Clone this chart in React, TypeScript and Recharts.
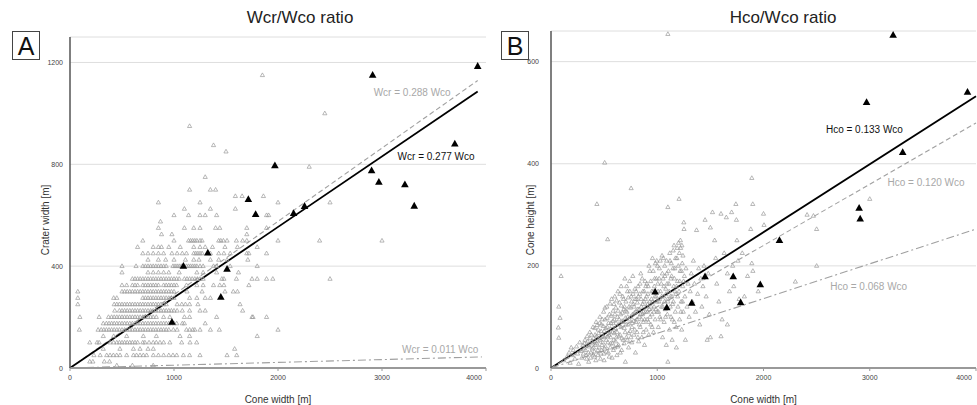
import React from "react";
import {
  ScatterChart,
  Scatter,
  XAxis,
  YAxis,
  CartesianGrid,
  ReferenceLine,
  ReferenceDot,
} from "recharts";

const coneWidthTicks = [0, 1000, 2000, 3000, 4000];
const craterTicks = [0, 400, 800, 1200];
const heightTicks = [0, 200, 400, 600];

// studied cones (black markers)
const keyConeWidth = [980, 1090, 1325, 1450, 1510, 1715, 1785, 1970, 2150, 2255, 2900, 2910, 2970, 3220, 3310, 3700, 3920];
const keyCraterWidth = [180, 400, 452, 278, 388, 662, 603, 795, 607, 635, 775, 1150, 730, 720, 636, 880, 1185];
const keyConeHeight = [149, 118, 127, 179, null, 179, 128, 163, 250, null, 313, 292, 520, 652, 422, null, 540];

// field data for crater width, grouped by crater width level (m)
const fieldCraterLevels = [1150, 1000, 950, 875, 850, 790, 750, 700, 675, 650, 625, 600, 575, 550, 525, 500, 475, 450, 425, 400, 375, 350, 325, 300, 275, 250, 225, 200, 175, 150, 125, 100, 75, 50, 25, 10];
const fieldConeWidthsByLevel: number[][] = [
  [1850],
  [2450],
  [1150],
  [1380],
  [1500],
  [2300],
  [1300],
  [1150, 1350, 1400],
  [1590, 1655, 1860],
  [850, 1250, 2000, 2500],
  [1100, 1350, 1590],
  [1000, 1140, 1250, 1300, 1410, 1890, 1910],
  [870],
  [850, 1100, 1190, 1250, 1400, 1440, 1700, 1890],
  [880, 980, 1700],
  [700, 1000, 1140, 1160, 1180, 1200, 1220, 1250, 1270, 1430, 1450, 1475, 1510, 1600, 1660, 1700, 2000, 2400, 3000],
  [650, 800, 850, 880, 950, 1060, 1190, 1250, 1300, 1370, 1490, 1610, 1800],
  [700, 750, 800, 850, 900, 980, 1030, 1080, 1120, 1190, 1210, 1230, 1250, 1270, 1350, 1430, 1480, 1540, 1700, 1720, 1890],
  [750, 850, 920, 1000, 1110, 1190, 1240, 1350, 1430, 1510, 1710],
  [500, 635, 700, 725, 750, 775, 800, 825, 850, 875, 900, 925, 990, 1010, 1030, 1050, 1070, 1100, 1120, 1140, 1160, 1180, 1200, 1220, 1250, 1280, 1380, 1410, 1540, 1800],
  [500, 750, 800, 850, 900, 950, 1050, 1220, 1280, 1410, 1620],
  [600, 625, 650, 675, 700, 725, 750, 775, 800, 825, 850, 875, 900, 925, 950, 975, 1000, 1025, 1050, 1100, 1125, 1150, 1175, 1200, 1225, 1250, 1280, 1460, 1480, 1600, 1750, 1800, 1890, 1950, 2500],
  [500, 545, 600, 625, 650, 700, 725, 750, 775, 800, 825, 850, 900, 925, 950, 975, 1000, 1025, 1120, 1220, 1280, 1380, 1440, 1480, 1720],
  [75, 500, 525, 550, 575, 600, 625, 650, 675, 700, 725, 750, 775, 800, 825, 850, 875, 900, 925, 950, 975, 1000, 1125, 1270, 1490, 1570, 1610],
  [75, 420, 450, 700, 725, 750, 775, 800, 825, 850, 875, 900, 925, 950, 975, 1000, 1150, 1220, 1300, 1350],
  [75, 425, 450, 475, 500, 525, 550, 575, 600, 625, 650, 675, 700, 725, 750, 775, 800, 825, 850, 875, 900, 925, 1030, 1075, 1110, 1150, 1230, 1635],
  [430, 475, 500, 525, 550, 575, 600, 625, 650, 675, 700, 725, 750, 775, 800, 825, 850, 875, 900, 925, 950, 975, 1000, 1030, 1080, 1150, 1250, 1300, 1660],
  [95, 280, 370, 400, 425, 450, 475, 500, 525, 550, 575, 600, 625, 650, 675, 700, 725, 750, 775, 800, 830, 900, 960, 1100, 1150, 1410, 1750, 1760, 1890],
  [320, 350, 375, 400, 425, 450, 475, 500, 525, 550, 575, 600, 625, 650, 675, 700, 725, 750, 775, 800, 825, 850, 875, 900, 925, 950, 975, 1000, 1026, 1080, 1100, 1300],
  [90, 270, 300, 325, 350, 375, 400, 425, 450, 475, 500, 525, 550, 575, 600, 625, 650, 675, 700, 725, 750, 775, 800, 825, 850, 875, 900, 925, 950, 994, 1030, 1120, 1150, 1180, 1200, 1250, 1350, 1436, 2000],
  [320, 420, 545, 705, 830, 1058, 1150, 1800],
  [190, 260, 280, 385, 420, 450, 475, 500, 525, 550, 575, 600, 625, 650, 700, 720, 760, 800, 830, 865, 900, 960, 1074, 1154, 1218],
  [320, 480, 610, 673, 750, 801, 1583],
  [230, 290, 353, 385, 417, 449, 481, 545, 610, 640, 673, 705, 737, 801, 850, 900, 950, 990, 1026, 1090, 1150, 1250, 1510, 1603],
  [190, 220, 330, 380],
  [450, 600, 800],
];

// field data for cone height: [cone width, cone height]
const fieldHeights: [number, number][] = [
  [73, 120], [85, 98], [69, 79], [73, 59], [95, 180],
  [120, 15], [150, 22], [170, 30], [180, 10], [190, 40], [200, 25],
  [210, 35], [225, 18], [240, 42], [250, 28], [260, 8], [270, 50], [280, 33], [290, 20], [300, 45],
  [310, 38], [320, 55], [330, 25], [340, 62], [350, 45], [355, 12], [365, 70], [375, 30], [385, 52], [395, 80], [400, 40],
  [410, 22], [415, 65], [425, 90], [430, 48], [440, 35], [445, 75], [455, 58], [460, 100], [470, 28], [475, 85], [480, 45], [490, 62], [495, 110], [500, 15], [500, 72],
  [505, 38], [510, 95], [520, 55], [525, 120], [530, 80], [540, 30], [545, 65], [550, 105], [560, 48], [565, 88], [570, 135], [575, 20], [580, 70], [585, 112], [590, 55], [595, 95], [600, 40], [600, 140],
  [605, 78], [610, 118], [615, 60], [620, 25], [625, 100], [630, 150], [635, 45], [640, 85], [645, 128], [650, 65], [655, 105], [660, 160], [665, 35], [670, 92], [675, 140], [680, 55], [685, 115], [690, 78], [695, 175], [700, 12], [700, 98],
  [705, 130], [710, 60], [715, 110], [720, 150], [725, 85], [730, 40], [735, 120], [740, 170], [745, 72], [750, 100], [755, 140], [760, 50], [765, 88], [770, 180], [775, 125], [780, 65], [785, 108], [790, 155], [795, 30], [800, 90],
  [805, 135], [810, 70], [815, 115], [820, 160], [825, 52], [830, 100], [835, 145], [840, 80], [845, 185], [850, 120], [855, 60], [860, 105], [865, 150], [870, 90], [875, 130], [880, 45], [885, 170], [890, 110], [895, 75], [900, 140],
  [905, 95], [910, 125], [915, 160], [920, 65], [925, 115], [930, 190], [940, 85], [945, 135], [950, 105], [955, 215], [960, 150], [965, 70], [970, 120], [975, 175], [980, 95], [990, 140], [995, 210], [1000, 110],
  [1005, 165], [1010, 80], [1015, 130], [1020, 195], [1025, 100], [1030, 150], [1040, 120], [1045, 220], [1050, 60], [1055, 175], [1060, 140], [1065, 90], [1070, 200], [1075, 115], [1080, 155], [1085, 45], [1090, 185], [1095, 105], [1100, 315], [1100, 130], [1100, 12], [1100, 654],
  [1110, 165], [1115, 75], [1120, 210], [1125, 140], [1130, 100], [1135, 180], [1140, 55], [1145, 125], [1150, 230], [1155, 160], [1160, 90], [1165, 195], [1170, 110], [1175, 145], [1180, 40], [1185, 215], [1190, 170], [1195, 120], [1200, 245], [1205, 331],
  [1205, 150], [1210, 95], [1215, 190], [1220, 235], [1225, 130], [1230, 75], [1235, 205], [1240, 160], [1245, 110], [1250, 285], [1252, 272], [1255, 180], [1260, 140], [1265, 55], [1270, 195], [1280, 120], [1290, 165], [1300, 100],
  [1310, 150], [1320, 185], [1330, 130], [1340, 210], [1350, 165], [1360, 110], [1370, 270], [1380, 145], [1390, 195], [1400, 85], [1410, 175], [1420, 120], [1430, 160], [1440, 200], [1450, 290], [1460, 140], [1470, 55], [1480, 185], [1490, 105], [1500, 275], [1500, 60],
  [1520, 305], [1540, 250], [1550, 215], [1560, 165], [1580, 130], [1600, 302], [1600, 62], [1610, 95], [1630, 225], [1650, 295], [1660, 85], [1660, 185], [1680, 150], [1700, 305], [1710, 200], [1720, 160], [1740, 321], [1745, 290], [1750, 250], [1760, 210], [1770, 135], [1800, 225], [1820, 140], [1850, 180], [1880, 272], [1890, 372], [1890, 205], [1899, 321], [1900, 190], [1950, 150], [2000, 302], [2005, 280],
  [2300, 169], [2410, 300], [2470, 298], [2500, 272], [2500, 200], [3000, 331],
  [432, 321], [505, 402], [533, 252], [754, 352],
  // dense core of the cloud
  [305, 28], [315, 48], [325, 35], [335, 18], [345, 52], [352, 30], [360, 42], [368, 58], [372, 20], [380, 65], [388, 38], [392, 48], [398, 26],
  [402, 58], [408, 32], [412, 78], [418, 45], [422, 15], [428, 62], [434, 84], [438, 52], [442, 25], [448, 68], [452, 40], [458, 88], [462, 55], [466, 18], [472, 72], [478, 35], [482, 95], [486, 50], [492, 82], [498, 28],
  [502, 60], [508, 118], [512, 42], [516, 78], [522, 32], [528, 98], [532, 62], [536, 50], [542, 88], [548, 22], [552, 72], [556, 126], [558, 40], [562, 60], [568, 102], [572, 82], [578, 48], [582, 92], [588, 35], [592, 125], [596, 68],
  [602, 105], [608, 52], [612, 88], [618, 132], [622, 70], [628, 42], [632, 112], [638, 62], [642, 95], [648, 145], [652, 30], [658, 80], [662, 122], [668, 58], [672, 108], [678, 90], [682, 135], [688, 48], [692, 120], [698, 70],
  [702, 112], [708, 85], [712, 160], [718, 55], [722, 100], [728, 138], [732, 68], [738, 95], [742, 150], [748, 118], [752, 60], [758, 130], [762, 80], [768, 105], [772, 145], [778, 92], [782, 120], [788, 75], [792, 135], [798, 110],
  [802, 150], [808, 95], [812, 128], [818, 60], [822, 140], [828, 115], [832, 85], [838, 165], [842, 105], [848, 135], [852, 95], [858, 175], [862, 125], [868, 70], [872, 110], [878, 150], [882, 95], [888, 135], [892, 160], [898, 120],
  [902, 165], [908, 110], [912, 145], [918, 90], [922, 200], [928, 130], [932, 100], [938, 170], [942, 120], [948, 150], [952, 80], [958, 130], [962, 190], [968, 110], [972, 160], [978, 140], [982, 205], [988, 115], [992, 175], [998, 130],
  [1002, 200], [1008, 150], [1012, 110], [1018, 175], [1022, 135], [1028, 210], [1032, 95], [1038, 165], [1042, 140], [1048, 185], [1052, 120], [1058, 215], [1062, 160], [1068, 130], [1072, 180], [1078, 100], [1082, 145], [1088, 210], [1092, 165], [1098, 135],
  [1105, 190], [1112, 150], [1118, 225], [1122, 120], [1128, 175], [1132, 205], [1138, 140], [1142, 95], [1148, 195], [1152, 130], [1158, 240], [1162, 175], [1168, 150], [1172, 215], [1178, 80], [1182, 160], [1188, 235], [1192, 140], [1198, 200],
  [1208, 225], [1212, 170], [1218, 250], [1222, 110], [1228, 190], [1232, 240], [1238, 130], [1242, 220], [1248, 170],
];

const FONT = "'Liberation Sans', Arial, sans-serif";

const craterField = fieldCraterLevels.flatMap((wcr, i) =>
  fieldConeWidthsByLevel[i].map((wco) => ({ x: wco, y: wcr }))
);
const craterKey = keyConeWidth.map((x, i) => ({ x, y: keyCraterWidth[i] }));
const heightField = fieldHeights.map(([x, y]) => ({ x, y }));
const heightKey = keyConeWidth
  .map((x, i) => ({ x, y: keyConeHeight[i] }))
  .filter((d) => d.y !== null);

function OpenTriangle(props: any) {
  const { cx, cy } = props;
  if (cx == null || cy == null) return <g />;
  return (
    <path
      d={`M${cx},${cy - 2.3}L${cx + 2.1},${cy + 1.4}L${cx - 2.1},${cy + 1.4}Z`}
      fill="none"
      stroke="#9a9a9a"
      strokeWidth={0.7}
    />
  );
}

function SolidTriangle(props: any) {
  const { cx, cy } = props;
  if (cx == null || cy == null) return <g />;
  return <path d={`M${cx},${cy - 4.2}L${cx + 3.8},${cy + 2.6}L${cx - 3.8},${cy + 2.6}Z`} fill="#000" />;
}

// plain grey tick text
function XTick(props: any) {
  const { x, y, payload } = props;
  return (
    <text x={x} y={y} dy={6} textAnchor="middle" fontSize={7} fill="#444">
      {payload.value}
    </text>
  );
}

function YTick(props: any) {
  const { x, y, payload } = props;
  return (
    <text x={x} y={y} dy={2.5} textAnchor="end" fontSize={7} fill="#444">
      {payload.value}
    </text>
  );
}

function SideTitle(props: any) {
  const { text, cx, cy } = props;
  return (
    <text x={cx} y={cy} transform={`rotate(-90 ${cx} ${cy})`} textAnchor="middle" dominantBaseline="central" fontSize={10} fill="#333">
      {text}
    </text>
  );
}

type FitLine = { slope: number; end: number; color: string; width: number; dash?: string; label: string; lx: number; ly: number };

function Panel(props: {
  left: number;
  marginLeft: number;
  marginTop: number;
  yMax: number;
  yTicks: number[];
  yTitle: string;
  yTitleX: number;
  tickMargin: number;
  field: { x: number; y: number }[];
  key_: { x: number; y: number | null }[];
  fits: FitLine[];
}) {
  return (
    <div style={{ position: "absolute", left: props.left, top: 0 }}>
      <ScatterChart width={490} height={405} margin={{ top: props.marginTop, right: 4, bottom: 0, left: props.marginLeft }}>
        <CartesianGrid horizontal vertical={false} stroke="#dedede" />
        <XAxis
          type="number"
          dataKey="x"
          domain={[0, 4000]}
          ticks={coneWidthTicks}
          height={37}
          tick={<XTick />}
          tickSize={3}
          tickMargin={3}
          axisLine={{ stroke: "#999", strokeWidth: 2 }}
          tickLine={{ stroke: "#999" }}
          label={{ value: "Cone width [m]", position: "insideBottom", offset: 2, fontSize: 10, fill: "#333" }}
        />
        <YAxis
          type="number"
          dataKey="y"
          domain={[0, props.yMax]}
          ticks={props.yTicks}
          width={40}
          tick={<YTick />}
          tickLine={false}
          tickSize={0}
          tickMargin={props.tickMargin}
          axisLine={{ stroke: "#555", strokeWidth: 1.5 }}
          label={<SideTitle text={props.yTitle} cx={props.yTitleX} cy={220} />}
        />
        <Scatter data={props.field} shape={<OpenTriangle />} isAnimationActive={false} />
        {props.fits.map((f) => (
          <ReferenceLine
            key={f.label}
            segment={[{ x: 0, y: 0 }, { x: f.end, y: f.slope * f.end }]}
            stroke={f.color}
            strokeWidth={f.width}
            strokeDasharray={f.dash}
          />
        ))}
        {props.fits.map((f) => (
          <ReferenceDot
            key={"l" + f.label}
            x={f.lx}
            y={f.ly}
            r={0}
            fill="none"
            stroke="none"
            label={{ value: f.label, position: "center", fontSize: 10, fill: f.color === "#000" ? "#111" : "#a8a8a8" }}
          />
        ))}
        <Scatter data={props.key_} shape={<SolidTriangle />} isAnimationActive={false} />
      </ScatterChart>
    </div>
  );
}

const craterFits: FitLine[] = [
  { slope: 0.288, end: 3920, color: "#a0a0a0", width: 1.1, dash: "5 3", label: "Wcr = 0.288 Wco", lx: 3290, ly: 1082 },
  { slope: 0.277, end: 3920, color: "#000", width: 1.8, label: "Wcr = 0.277 Wco", lx: 3520, ly: 831 },
  { slope: 0.011, end: 3960, color: "#a0a0a0", width: 1.1, dash: "8 3 2 3", label: "Wcr = 0.011 Wco", lx: 3560, ly: 71 },
];

const heightFits: FitLine[] = [
  { slope: 0.133, end: 4000, color: "#000", width: 1.8, label: "Hco = 0.133 Wco", lx: 2950, ly: 467 },
  { slope: 0.12, end: 4000, color: "#a0a0a0", width: 1.1, dash: "5 3", label: "Hco = 0.120 Wco", lx: 3530, ly: 363 },
  { slope: 0.068, end: 4000, color: "#a0a0a0", width: 1.1, dash: "8 3 2 3", label: "Hco = 0.068 Wco", lx: 2990, ly: 159 },
];

const titleStyle: React.CSSProperties = {
  position: "absolute",
  top: 7,
  width: 200,
  textAlign: "center",
  fontSize: 17,
  lineHeight: "22px",
  color: "#222",
};

const boxStyle: React.CSSProperties = {
  position: "absolute",
  top: 31,
  width: 26,
  height: 27,
  border: "1px solid #444",
  fontSize: 25,
  lineHeight: "28px",
  textAlign: "center",
  color: "#111",
};

export default function App() {
  return (
    <div
      style={{
        position: "absolute",
        left: 0,
        top: 0,
        width: 977,
        height: 405,
        overflow: "hidden",
        background: "#fff",
        fontFamily: FONT,
      }}
    >
      <Panel
        left={0}
        marginLeft={30}
        marginTop={37}
        yMax={1300}
        yTicks={craterTicks}
        yTitle="Crater width [m]"
        yTitleX={45}
        tickMargin={7}
        field={craterField}
        key_={craterKey}
        fits={craterFits}
      />
      <Panel
        left={490}
        marginLeft={21}
        marginTop={31}
        yMax={660}
        yTicks={heightTicks}
        yTitle="Cone height [m]"
        yTitleX={40}
        tickMargin={12}
        field={heightField}
        key_={heightKey}
        fits={heightFits}
      />
      <div style={{ ...titleStyle, left: 200 }}>Wcr/Wco ratio</div>
      <div style={{ ...titleStyle, left: 683 }}>Hco/Wco ratio</div>
      <div style={{ ...boxStyle, left: 12 }}>A</div>
      <div style={{ ...boxStyle, left: 501 }}>B</div>
    </div>
  );
}
